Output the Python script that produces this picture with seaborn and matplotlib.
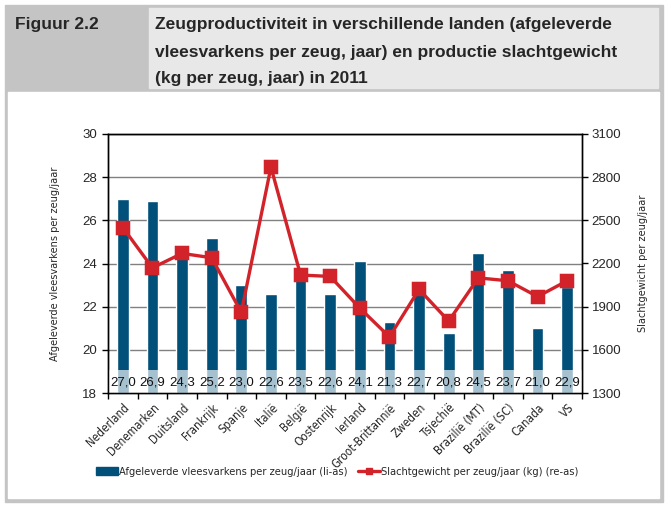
import seaborn as sns
import matplotlib.pyplot as plt
import pandas as pd
import numpy as np
from matplotlib.patches import Rectangle, Patch
from matplotlib.lines import Line2D

# Data
landen = ['Nederland', 'Denemarken', 'Duitsland', 'Frankrijk', 'Spanje', 'Italië',
          'België', 'Oostenrijk', 'Ierland', 'Groot-Brittannië', 'Zweden', 'Tsjechië',
          'Brazilië (MT)', 'Brazilië (SC)', 'Canada', 'VS']
vleesvarkens = [27.0, 26.9, 24.3, 25.2, 23.0, 22.6, 23.5, 22.6, 24.1, 21.3, 22.7, 20.8,
                24.5, 23.7, 21.0, 22.9]
slachtgewicht = [2450, 2170, 2270, 2240, 1860, 2870, 2120, 2110, 1890, 1690, 2020, 1800,
                 2100, 2080, 1970, 2080]

df = pd.DataFrame({'land': landen, 'varkens': vleesvarkens, 'gewicht': slachtgewicht})

sns.set_theme(style='ticks')
plt.rcParams['font.family'] = ['Liberation Sans', 'DejaVu Sans']
narrow = dict(family='DejaVu Sans', stretch='condensed')

blue = '#00507a'
red = '#d2232a'

fig = plt.figure(figsize=(6.67, 5.07), dpi=100)
W, H = 667, 507

def px_rect(x0, y0, x1, y1, color):
    fig.patches.append(Rectangle((x0 / W, 1 - y1 / H), (x1 - x0) / W, (y1 - y0) / H,
                                 transform=fig.transFigure, color=color, zorder=-5))

# frame and title boxes
px_rect(5, 5, 663, 502, '#c4c4c4')
px_rect(8, 92, 659, 498, 'white')
px_rect(149, 8, 658, 88, '#e8e8e8')
fig.text(15 / W, 1 - 25 / H, 'Figuur 2.2', fontsize=12.5, fontweight='bold',
         va='center', ha='left')
title = ['Zeugproductiviteit in verschillende landen (afgeleverde',
         'vleesvarkens per zeug, jaar) en productie slachtgewicht',
         '(kg per zeug, jaar) in 2011']
for i, line in enumerate(title):
    fig.text(155 / W, 1 - (25 + 27 * i) / H, line, fontsize=12.5, fontweight='bold',
             va='center', ha='left')

ax = fig.add_axes([108 / W, 1 - 393 / H, (582 - 108) / W, (393 - 134) / H])
ax.set_facecolor('none')
sns.barplot(data=df, x='land', y='varkens', color=blue, width=0.4, saturation=1, ax=ax)
ax.set_ylim(18, 30)
ax.set_yticks(np.arange(18, 31, 2))
ax.yaxis.grid(True, color='#808080', lw=1)
ax.set_axisbelow(True)

# value band at the bottom
ax.axhspan(18, 19.05, color='white', alpha=0.65, zorder=3, lw=0)
for i, v in enumerate(vleesvarkens):
    ax.text(i, 18.5, f'{v:.1f}'.replace('.', ','), ha='center', va='center',
            fontsize=9.5, color='#111111', zorder=4)

ax2 = ax.twinx()
sns.pointplot(data=df, x='land', y='gewicht', color=red, markers='s', markersize=8,
              linewidth=2.4, ax=ax2)
ax2.set_ylim(1300, 3100)
ax2.set_yticks(np.arange(1300, 3101, 300))

ax.set_xlim(-0.5, len(landen) - 0.5)
ax.set_xticks(range(len(landen)))
ax.set_xticklabels(landen, rotation=45, ha='right', rotation_mode='anchor',
                   fontsize=8.4, **narrow)
ax.set_xticks(np.arange(-0.5, len(landen)), minor=True)
ax.tick_params(axis='x', which='major', length=0, pad=6)
ax.tick_params(axis='x', which='minor', length=4, width=1, color='black', direction='out')
ax.tick_params(axis='y', length=4, width=1, color='black', labelsize=9.5, pad=4)
ax2.tick_params(axis='y', length=4, width=1, color='black', labelsize=9.5, pad=3)
ax.set_xlabel('')
ax2.set_xlabel('')
ax.set_ylabel('Afgeleverde vleesvarkens per zeug/jaar', fontsize=7.8, labelpad=15.5, **narrow)
ax2.set_ylabel('Slachtgewicht per zeug/jaar', fontsize=7.8, labelpad=12, **narrow)
for a in (ax, ax2):
    for s in a.spines.values():
        s.set_color('black')
        s.set_linewidth(1)

handles = [Patch(color=blue),
           Line2D([], [], color=red, lw=2.4, marker='s', markersize=5)]
labels = ['Afgeleverde vleesvarkens per zeug/jaar (li-as)',
          'Slachtgewicht per zeug/jaar (kg) (re-as)']
fig.legend(handles, labels, loc='center', bbox_to_anchor=(337 / W, 1 - 472 / H),
           ncol=2, frameon=False, prop=dict(size=7.9, **narrow),
           handlelength=2.0, handletextpad=0.05, columnspacing=1.0)

fig.savefig('out.png', dpi=100)
